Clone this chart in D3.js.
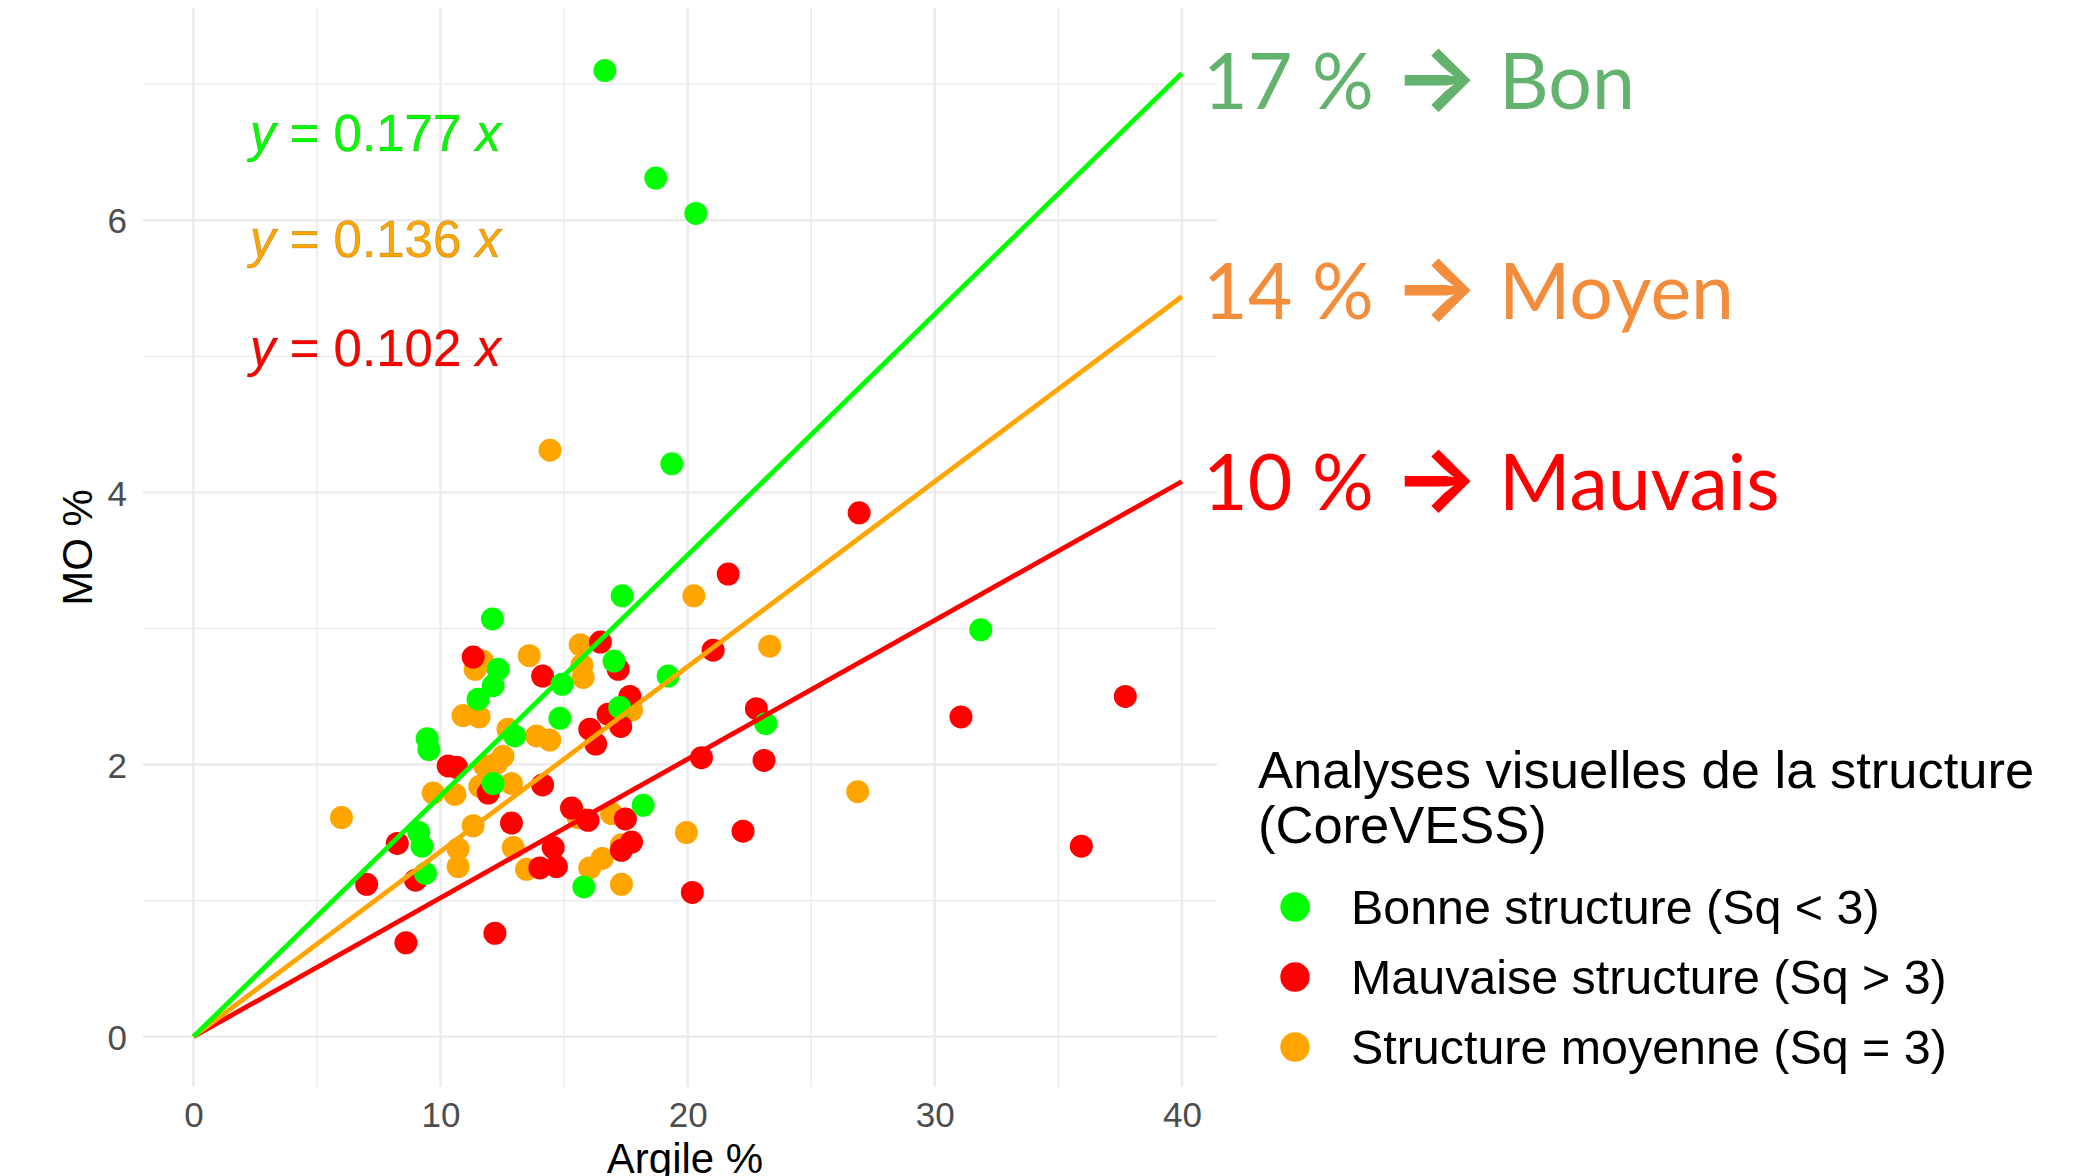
<!DOCTYPE html>
<html>
<head>
<meta charset="utf-8">
<script src="https://cdn.jsdelivr.net/npm/d3@7"></script>
<style>
  body { margin: 0; background: #fff; }
</style>
</head>
<body>
<div id="chart"></div>
<script>
// Donnees : Argile % (x) et MO % (y) par classe de structure
const bonArgile = [16.65, 18.71, 20.33, 19.36, 17.35, 31.86, 23.16, 19.21, 18.2, 15.8, 12.10, 12.33, 12.13, 11.52, 14.92, 14.83, 13.0, 9.46, 9.53, 12.13, 9.12, 9.25, 9.39, 17.02, 17.25];
const bonMO     = [7.10, 6.31, 6.05, 4.21, 3.24, 2.99, 2.30, 2.65, 1.70, 1.10, 3.07, 2.70, 2.58, 2.48, 2.59, 2.34, 2.21, 2.19, 2.11, 1.86, 1.50, 1.40, 1.20, 2.76, 2.42];

const mauvArgile = [26.94, 21.64, 37.71, 31.06, 35.93, 21.03, 16.47, 17.19, 17.66, 16.78, 17.29, 16.04, 16.28, 22.78, 20.56, 23.09, 15.3, 15.97, 17.48, 17.73, 17.32, 22.24, 20.19, 11.32, 14.13, 10.31, 10.65, 11.93, 14.13, 12.87, 8.25, 7.01, 8.99, 14.56, 14.02, 14.69, 8.6, 12.2];
const mauvMO     = [3.85, 3.40, 2.50, 2.35, 1.40, 2.84, 2.90, 2.70, 2.50, 2.37, 2.28, 2.26, 2.15, 2.41, 2.05, 2.03, 1.68, 1.59, 1.60, 1.43, 1.37, 1.51, 1.06, 2.79, 2.65, 1.99, 1.98, 1.79, 1.85, 1.57, 1.42, 1.12, 1.15, 1.39, 1.24, 1.25, 0.69, 0.76];

const moyArgile = [14.43, 20.25, 23.32, 26.88, 19.95, 11.4, 11.7, 13.59, 15.65, 15.72, 15.77, 10.91, 11.56, 12.73, 13.88, 14.42, 12.53, 12.27, 11.79, 11.59, 12.87, 9.70, 10.58, 5.99, 11.32, 10.71, 10.71, 12.94, 13.48, 17.73, 16.92, 15.57, 17.32, 16.54, 16.04, 17.32];
const moyMO     = [4.31, 3.24, 2.87, 1.80, 1.50, 2.70, 2.76, 2.80, 2.88, 2.73, 2.64, 2.36, 2.35, 2.26, 2.21, 2.18, 2.06, 2.01, 1.99, 1.84, 1.86, 1.79, 1.78, 1.61, 1.55, 1.38, 1.25, 1.39, 1.23, 2.40, 1.64, 1.61, 1.41, 1.31, 1.24, 1.12];

// Pentes des droites passant par l'origine (vert, orange, rouge)
const pentes = [0.177, 0.136, 0.102];
const couleurs = ["#00ff00", "#ffa500", "#ff0000"];
const equations = ["0.177", "0.136", "0.102"];
const seuils = ["17 %", "14 %", "10 %"];
const classes = ["Bon", "Moyen", "Mauvais"];
const couleursSeuils = ["#63b36f", "#f38d3c", "#ff0000"];

const legendeTitre = ["Analyses visuelles de la structure", "(CoreVESS)"];
const legendeLabels = ["Bonne structure (Sq < 3)", "Mauvaise structure (Sq > 3)", "Structure moyenne (Sq = 3)"];
const legendeCouleurs = ["#00ff00", "#ff0000", "#ffa500"];

const xTicks = [0, 10, 20, 30, 40];
const yTicks = [0, 2, 4, 6];
const xMinor = [5, 15, 25, 35];
const yMinor = [1, 3, 5, 7];

// Taille du svg
const width = 2099;
const height = 1176;
const panel = {left: 143, right: 1217, top: 8, bottom: 1087};

const svg = d3.select("#chart")
    .append("svg")
    .attr("width", width)
    .attr("height", height)
    .style("font-family", "'Liberation Sans', Arial, sans-serif");

svg.append("rect").attr("width", width).attr("height", height).attr("fill", "#fff");

const x = d3.scaleLinear().domain([-2.04, 41.42]).range([panel.left, panel.right]);
const y = d3.scaleLinear().domain([-0.37, 7.56]).range([panel.bottom, panel.top]);

// grille (theme_minimal)
const grille = svg.append("g");
grille.selectAll(".vmin").data(xMinor).join("line")
    .attr("x1", d => x(d)).attr("x2", d => x(d))
    .attr("y1", panel.top).attr("y2", panel.bottom)
    .attr("stroke", "#ebebeb").attr("stroke-width", 1.3);
grille.selectAll(".hmin").data(yMinor).join("line")
    .attr("y1", d => y(d)).attr("y2", d => y(d))
    .attr("x1", panel.left).attr("x2", panel.right)
    .attr("stroke", "#ebebeb").attr("stroke-width", 1.3);
grille.selectAll(".vmaj").data(xTicks).join("line")
    .attr("x1", d => x(d)).attr("x2", d => x(d))
    .attr("y1", panel.top).attr("y2", panel.bottom)
    .attr("stroke", "#ebebeb").attr("stroke-width", 2.4);
grille.selectAll(".hmaj").data(yTicks).join("line")
    .attr("y1", d => y(d)).attr("y2", d => y(d))
    .attr("x1", panel.left).attr("x2", panel.right)
    .attr("stroke", "#ebebeb").attr("stroke-width", 2.4);

// axes sans trait, seulement les etiquettes
const axeX = svg.append("g")
    .attr("transform", "translate(0," + (panel.bottom + 40) + ")")
    .call(d3.axisBottom(x).tickValues(xTicks).tickSize(0).tickPadding(0));
const axeY = svg.append("g")
    .attr("transform", "translate(" + (panel.left - 16) + ",0)")
    .call(d3.axisLeft(y).tickValues(yTicks).tickSize(0).tickPadding(0));
[axeX, axeY].forEach(a => {
    a.select(".domain").remove();
    a.selectAll("text")
        .style("font-family", "'Liberation Sans', Arial, sans-serif")
        .style("font-size", "35px")
        .attr("fill", "#4d4d4d");
});
axeX.selectAll("text").attr("dy", 0);
axeY.selectAll("text").attr("dy", "0.36em");

// points
const points = [
    {xs: moyArgile, ys: moyMO, col: "#ffa500"},
    {xs: mauvArgile, ys: mauvMO, col: "#ff0000"},
    {xs: bonArgile, ys: bonMO, col: "#00ff00"}
];
points.forEach(s => {
    svg.append("g").selectAll("circle")
        .data(d3.zip(s.xs, s.ys))
        .join("circle")
        .attr("cx", d => x(d[0]))
        .attr("cy", d => y(d[1]))
        .attr("r", 11.5)
        .attr("fill", s.col);
});

// droites y = a x
const ligne = d3.line().x(d => x(d[0])).y(d => y(d[1]));
[2, 1, 0].forEach(i => {
    svg.append("path")
        .datum([[0, 0], [40, 40 * pentes[i]]])
        .attr("d", ligne)
        .attr("fill", "none")
        .attr("stroke", couleurs[i])
        .attr("stroke-width", 4.8);
});

// equations
const eqY = [6.51, 5.73, 4.93];
equations.forEach((e, i) => {
    const t = svg.append("text")
        .attr("x", x(2.29))
        .attr("y", y(eqY[i]))
        .attr("fill", couleurs[i])
        .attr("stroke", "rgba(60,60,0,0.35)")
        .attr("stroke-width", 0.6)
        .style("font-size", "51px");
    t.append("tspan").style("font-style", "italic").text("y");
    t.append("tspan").text(" = " + e + " ");
    t.append("tspan").style("font-style", "italic").text("x");
});

// annotations a droite des droites
const annotY = [109, 319, 510];
seuils.forEach((s, i) => {
    const t = svg.append("text")
        .attr("x", 1203)
        .attr("y", annotY[i])
        .attr("fill", couleursSeuils[i])
        .style("font-family", "Lato, 'Open Sans', sans-serif")
        .style("font-size", "77px");
    t.append("tspan").text(s + " ");
    t.append("tspan")
        .style("font-family", "Inter, 'DejaVu Sans', sans-serif")
        .style("font-weight", 700)
        .style("font-size", "90px")
        .text("\u2192");
    t.append("tspan").text(" " + classes[i]);
});

// titres des axes
svg.append("text")
    .attr("x", 685).attr("y", 1173)
    .attr("text-anchor", "middle")
    .style("font-size", "42px")
    .text("Argile %");
svg.append("text")
    .attr("transform", "translate(91.5,547.5) rotate(-90)")
    .attr("text-anchor", "middle")
    .style("font-size", "42px")
    .text("MO %");

// legende
const legende = svg.append("g");
legende.selectAll(".titre").data(legendeTitre).join("text")
    .attr("x", 1258)
    .attr("y", (d, i) => 788 + i * 55)
    .style("font-size", "52.5px")
    .text(d => d);
legende.selectAll("circle").data(legendeLabels).join("circle")
    .attr("cx", 1295)
    .attr("cy", (d, i) => 907 + i * 70)
    .attr("r", 14.7)
    .attr("fill", (d, i) => legendeCouleurs[i]);
legende.selectAll(".lab").data(legendeLabels).join("text")
    .attr("x", 1351)
    .attr("y", (d, i) => 924 + i * 70)
    .style("font-size", "48.4px")
    .text(d => d);
</script>
</body>
</html>
